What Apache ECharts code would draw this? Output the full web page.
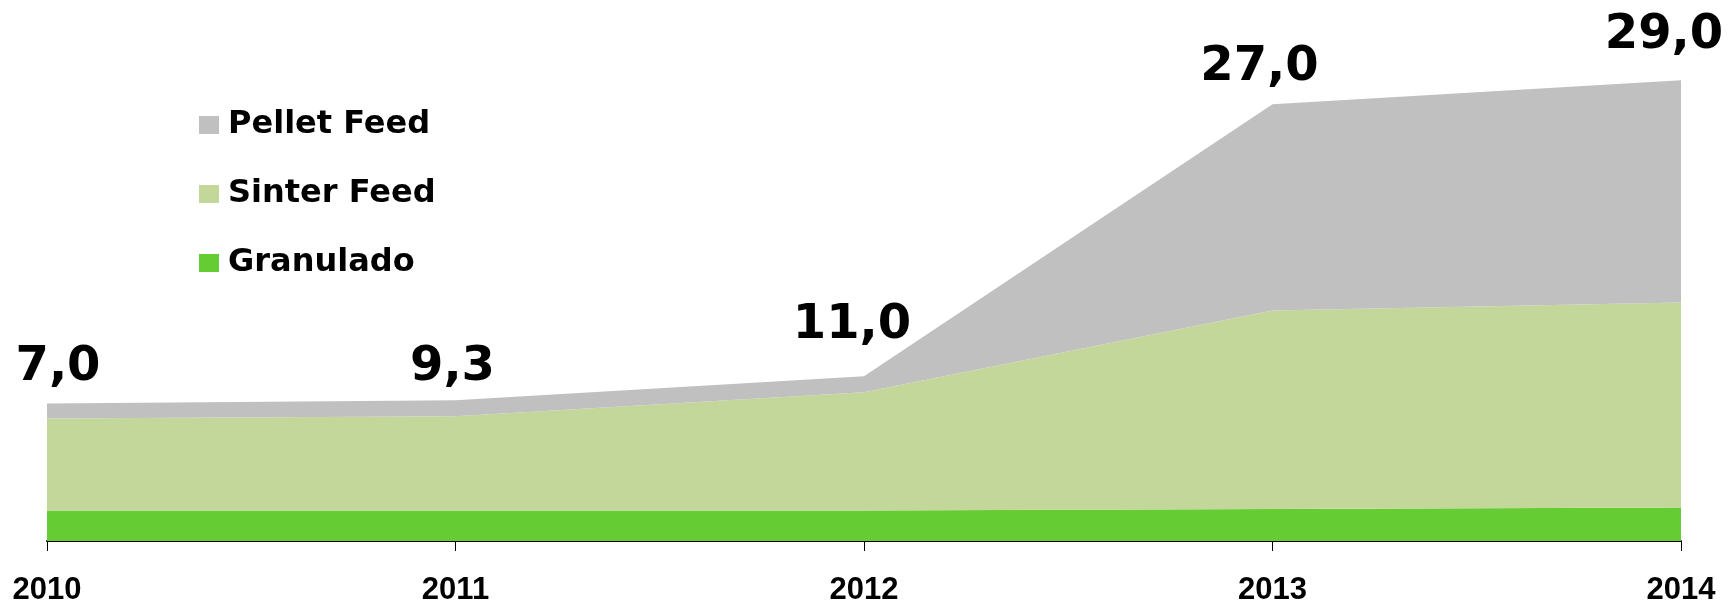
<!DOCTYPE html>
<html>
<head>
<meta charset="utf-8">
<title>Produção</title>
<script src="https://cdn.jsdelivr.net/npm/echarts@6/dist/echarts.min.js"></script>
<style>
    html, body { margin: 0; padding: 0; background: #fff; }
    #myChart { width: 1734px; height: 606px; }
</style>
</head>
<body>
<div id="myChart"></div>
<script>
    /////////////////////////

    // anos
    var years = ['2010', '2011', '2012', '2013', '2014'];

    // valores (empilhados de baixo para cima)
    var granulado   = [1.9, 1.9, 1.9, 2.0, 2.1];
    var sinterFeed  = [5.75, 5.9, 7.4, 12.4, 12.8];
    var pelletFeed  = [0.95, 1.0, 1.0, 12.9, 13.9];

    // rotulos de total escritos acima de cada ano
    var totalLabels = ['7,0', '9,3', '11,0', '27,0', '29,0'];

    /////////////////////////

    var myChart;

    // deslocamento de cada rotulo de total [x, y]
    var labelShift = [[11, -7], [-3, -4], [-12, -22], [-13, -8], [-17, -16]];

    function getMyChart() {
        if (myChart != undefined) {
            return myChart;
        }
        myChart = echarts.init(document.getElementById('myChart'));
        return myChart;
    }

    function makeTopData() {
        var d = [];
        for (var i = 0; i < pelletFeed.length; i++) {
            d.push({
                value: pelletFeed[i],
                label: { offset: labelShift[i] }
            });
        }
        return d;
    }

    function makeOptions() {
        var option = {
            animation: false,
            backgroundColor: '#ffffff',
            grid: {
                left: 47,
                right: 53,
                top: 61,
                bottom: 65
            },
            legend: {
                orient: 'vertical',
                left: 194,
                top: 103,
                itemWidth: 20,
                itemHeight: 18,
                itemGap: 35,
                icon: 'rect',
                data: ['Pellet Feed', 'Sinter Feed', 'Granulado'],
                textStyle: {
                    fontFamily: 'DejaVu Sans',
                    fontWeight: 'bold',
                    fontSize: 32,
                    lineHeight: 34,
                    color: '#000',
                    padding: [0, 0, 0, 4]
                }
            },
            xAxis: {
                type: 'category',
                boundaryGap: false,
                data: years,
                axisLine: { lineStyle: { color: '#000', width: 2 } },
                axisTick: { show: true, length: 10, lineStyle: { color: '#000', width: 1 } },
                axisLabel: {
                    margin: 34,
                    fontFamily: 'Liberation Sans',
                    fontWeight: 'bold',
                    fontSize: 31,
                    color: '#000'
                },
                splitLine: { show: false }
            },
            yAxis: {
                type: 'value',
                show: false,
                min: 0,
                max: 30,
                splitLine: { show: false }
            },
            series: [
                {
                    name: 'Granulado',
                    type: 'line',
                    stack: 'total',
                    symbol: 'none',
                    lineStyle: { width: 0 },
                    itemStyle: { color: '#66CC33' },
                    areaStyle: { color: '#66CC33', opacity: 1 },
                    data: granulado
                },
                {
                    name: 'Sinter Feed',
                    type: 'line',
                    stack: 'total',
                    symbol: 'none',
                    lineStyle: { width: 0 },
                    itemStyle: { color: '#C4D79B' },
                    areaStyle: { color: '#C4D79B', opacity: 1 },
                    data: sinterFeed
                },
                {
                    name: 'Pellet Feed',
                    type: 'line',
                    stack: 'total',
                    // simbolo invisivel, so para segurar o rotulo
                    symbol: 'circle',
                    symbolSize: 0,
                    showSymbol: true,
                    lineStyle: { width: 0 },
                    itemStyle: { color: '#C0C0C0' },
                    areaStyle: { color: '#C0C0C0', opacity: 1 },
                    label: {
                        show: true,
                        position: 'top',
                        distance: 5,
                        fontFamily: 'DejaVu Sans',
                        fontWeight: 'bold',
                        fontSize: 48,
                        color: '#000',
                        formatter: function (p) {
                            return totalLabels[p.dataIndex];
                        }
                    },
                    data: makeTopData()
                }
            ]
        };
        return option;
    }

    getMyChart().setOption(makeOptions());
</script>
</body>
</html>
